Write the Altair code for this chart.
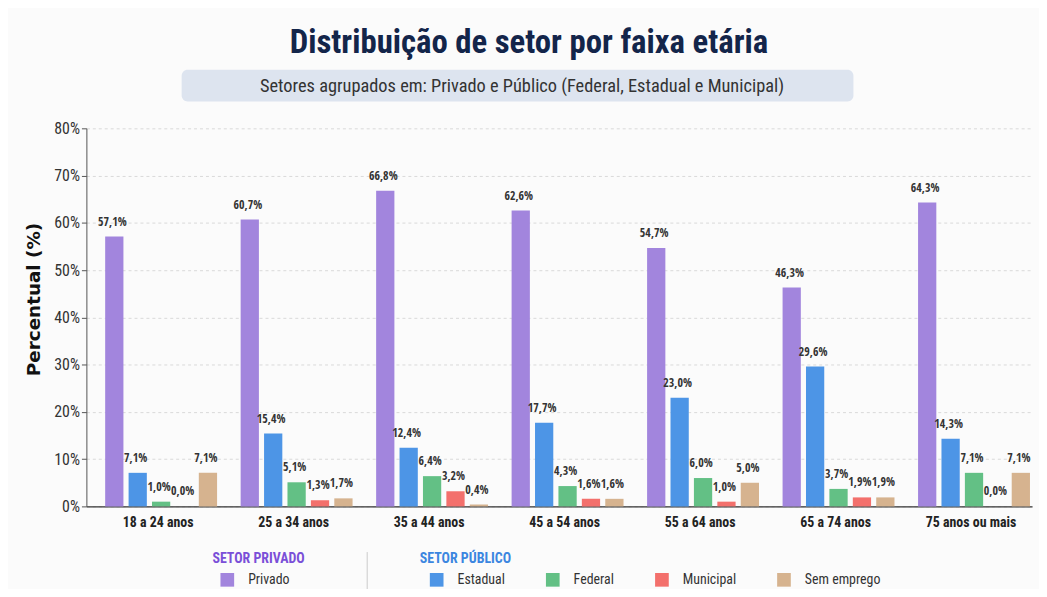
import altair as alt
import pandas as pd

faixas = ["18 a 24 anos", "25 a 34 anos", "35 a 44 anos", "45 a 54 anos",
          "55 a 64 anos", "65 a 74 anos", "75 anos ou mais"]
setores = ["Privado", "Estadual", "Federal", "Municipal", "Sem emprego"]
privado = [57.1, 60.7, 66.8, 62.6, 54.7, 46.3, 64.3]
estadual = [7.1, 15.4, 12.4, 17.7, 23.0, 29.6, 14.3]
federal = [1.0, 5.1, 6.4, 4.3, 6.0, 3.7, 7.1]
municipal = [0.0, 1.3, 3.2, 1.6, 1.0, 1.9, 0.0]
sem_emprego = [7.1, 1.7, 0.4, 1.6, 5.0, 1.9, 7.1]
y_ticks = [0, 10, 20, 30, 40, 50, 60, 70, 80]

TITLE = "Distribuição de setor por faixa etária"
SUBTITLE = "Setores agrupados em: Privado e Público (Federal, Estadual e Municipal)"

cores_priv = ["#a285dd"]
cores_pub = ["#4d95e6", "#63c085", "#f3706c", "#d6b38f"]

rows = []
for serie, vals in zip(setores, [privado, estadual, federal, municipal, sem_emprego]):
    for f, v in zip(faixas, vals):
        rows.append({"faixa": f, "setor": serie, "valor": v})
df = pd.DataFrame(rows)

RC = "Roboto Condensed, Roboto, sans-serif"
OSC = "Open Sans Condensed, Roboto Condensed, sans-serif"

x_enc = alt.X("faixa:N", sort=faixas, title=None,
              scale=alt.Scale(paddingInner=0.174, paddingOuter=0.077, align=0.9),
              axis=alt.Axis(labelFont=RC, labelFontWeight="bold", labelFontSize=14,
                            labelColor="#222", labelAngle=0, ticks=False, labelPadding=9,
                            labelOffset=-3,
                            domainColor="#333", domainWidth=1.2, grid=False))
y_enc = alt.Y("valor:Q", title="Percentual (%)",
              scale=alt.Scale(domain=[0, 80], nice=False),
              axis=alt.Axis(values=y_ticks, labelExpr="datum.value + '%'",
                            labelFont=RC, labelFontSize=16, labelColor="#333",
                            tickColor="#555", tickSize=5, domainColor="#555",
                            titleFont="DejaVu Sans", titleFontSize=18.5, titleFontWeight="bold",
                            titleColor="#111", titlePadding=10, titleY=172,
                            grid=True, gridDash=[3, 3], gridColor="#d9d9d9"))
xo_enc = alt.XOffset("setor:N", sort=setores,
                     scale=alt.Scale(domain=setores, paddingInner=0.22, paddingOuter=0))

base = alt.Chart(df)

bars_priv = base.transform_filter(alt.datum.setor == "Privado").mark_bar().encode(
    x=x_enc, y=y_enc, xOffset=xo_enc,
    color=alt.Color("setor:N", scale=alt.Scale(domain=["Privado"], range=cores_priv),
                    legend=alt.Legend(title="SETOR PRIVADO", orient="none",
                                      legendX=127, legendY=427, direction="horizontal",
                                      titleColor="#7a4fd8", titleFont=RC,
                                      titleFontSize=14, titleFontWeight="bold",
                                      titlePadding=7, symbolOffset=8))
)
bars_pub = base.transform_filter(alt.datum.setor != "Privado").mark_bar().encode(
    x=x_enc, y=y_enc, xOffset=xo_enc,
    color=alt.Color("setor:N", scale=alt.Scale(domain=setores[1:], range=cores_pub),
                    sort=setores[1:],
                    legend=alt.Legend(title="SETOR PÚBLICO", orient="none",
                                      legendX=336, legendY=427, direction="horizontal",
                                      columns=4, gridAlign="each", columnPadding=31,
                                      titleColor="#3b86e0", titleFont=RC,
                                      titleFontSize=14, titleFontWeight="bold",
                                      titlePadding=7, symbolOffset=10))
)
labels = base.transform_calculate(
    rotulo="replace(format(datum.valor, '.1f'), '.', ',') + '%'"
).mark_text(font=OSC, fontSize=12, fontWeight="bold", color="#333",
            dy=-8, dx=-2, baseline="bottom").encode(
    x=alt.X("faixa:N", sort=faixas), y="valor:Q", xOffset=xo_enc, text="rotulo:N"
)

tdf = pd.DataFrame({"t": [TITLE]})
sdf = pd.DataFrame({"t": [SUBTITLE]})
title = alt.Chart(tdf).mark_text(font=RC, fontSize=33, fontWeight="bold",
                                 color="#13254a", align="center", baseline="middle").encode(
    x=alt.value(446), y=alt.value(-86), text="t:N")
box = alt.Chart(sdf).mark_rect(color="#dde4ef", cornerRadius=6).encode(
    x=alt.value(96), x2=alt.value(773), y=alt.value(-59), y2=alt.value(-27))
subtitle = alt.Chart(sdf).mark_text(font=RC, fontSize=18.5, color="#333",
                                    align="center", baseline="middle").encode(
    x=alt.value(439), y=alt.value(-43), text="t:N")
sep = alt.Chart(sdf).mark_rule(color="#ccc", strokeWidth=1).encode(
    x=alt.value(283), y=alt.value(427), y2=alt.value(470))

chart = alt.layer(box, subtitle, title, sep, bars_priv, bars_pub, labels).resolve_scale(
    color="independent"
).properties(
    width=953, height=381,
    autosize=alt.AutoSizeParams(type="none"),
    padding={"left": 79, "top": 119, "right": 7, "bottom": 81},
    background="#fbfbfb"
).configure_view(stroke=None).configure_legend(
    symbolType="square", symbolSize=190, symbolStrokeWidth=0,
    labelFont=RC, labelFontSize=14, labelColor="#333", labelOffset=14,
    labelLimit=0
)

chart.save("out.html", embed_options={"renderer": "svg", "actions": False})
